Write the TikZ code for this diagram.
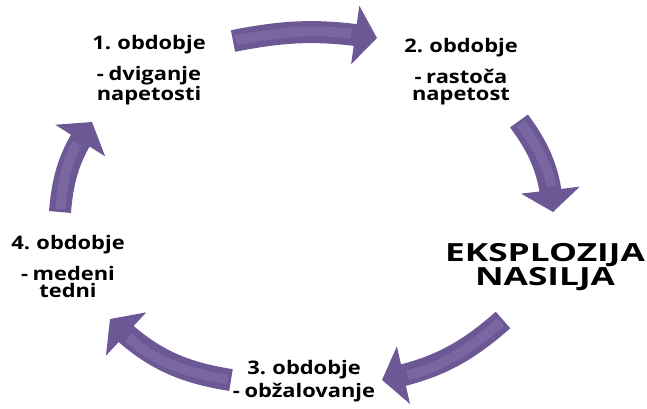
\documentclass[tikz,border=0pt]{standalone}
\usepackage{fontspec}
\setmainfont{Open Sans}[FakeStretch=1.17,WordSpace=0.8]
\newfontfamily\burstfont{Open Sans}[FakeStretch=1.41]
\usepackage{tikz}
\usetikzlibrary{arrows.meta,bending}

\definecolor{cycpurple}{RGB}{108,88,148}
\definecolor{cyclight}{RGB}{140,122,180}

\tikzset{
  period/.style={align=center,anchor=base,font=\bfseries\fontsize{18.7}{17}\selectfont},
  burst/.style={align=center,anchor=base,font=\burstfont\bfseries\fontsize{25}{23.5}\selectfont},
  cyc/.style={draw=cycpurple,line width=22pt,-{Triangle[width=58pt,length=22pt]},
    postaction={draw=cyclight,line width=10pt,opacity=0.45,shorten >=26pt,shorten <=3pt,-}}
}

\begin{document}
\begin{tikzpicture}[x=1pt,y=1pt]
        \useasboundingbox (0,0) rectangle (647,-408);
        % periods of the cycle (placed by the last baseline)
        \node[period] (p1) at (149,-100) {1. obdobje\\[11pt]- dviganje\\napetosti};
        \node[period] (p2) at (461,-100) {2. obdobje\\[11pt]- rastoča\\napetost};
        \node[burst] (eks) at (545,-285) {EKSPLOZIJA\\NASILJA};
        \node[period] (p3) at (304,-397) {3. obdobje\\[3pt]- obžalovanje};
        \node[period] (p4) at (68,-297) {4. obdobje\\[11pt]- medeni\\tedni};
        % arrow ends
        \coordinate (t1) at (233,-41);  \coordinate (h1) at (377,-38);
        \coordinate (t2) at (519,-121); \coordinate (h2) at (553,-212);
        \coordinate (t3) at (503,-320); \coordinate (h3) at (382,-380);
        \coordinate (t4) at (231,-380); \coordinate (h4) at (110,-319);
        \coordinate (t5) at (60,-212);  \coordinate (h5) at (92,-122);
        % arrows
        \draw[cyc] (t1) to[bend left=10] (h1);
        \draw[cyc] (t2) to[bend left=16] (h2);
        \draw[cyc] (t3) to[bend left=15] (h3);
        \draw[cyc] (t4) to[bend left=18] (h4);
        \draw[cyc] (t5) to[bend left=15] (h5);
\end{tikzpicture}
\end{document}
